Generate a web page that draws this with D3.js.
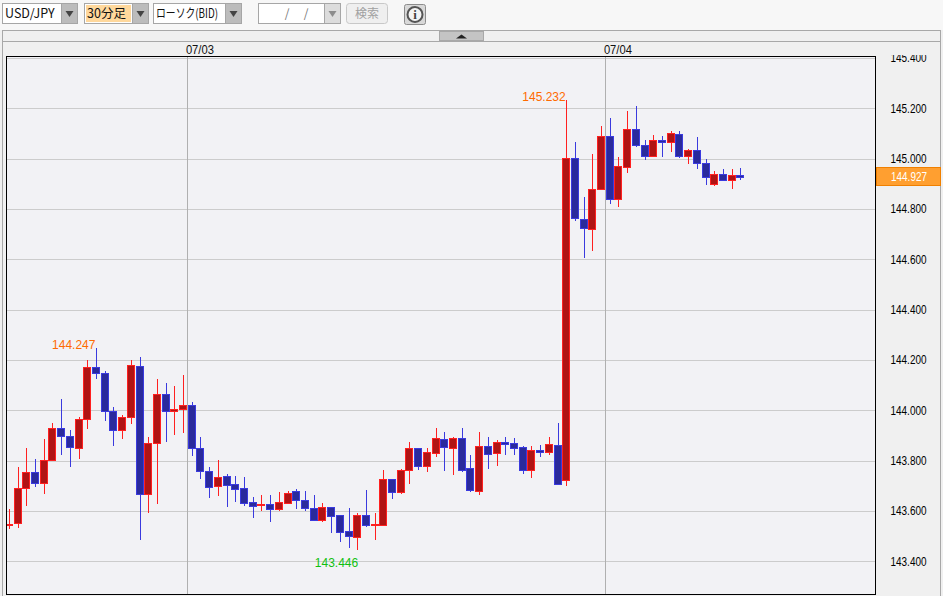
<!DOCTYPE html>
<html lang="ja">
<head>
  <meta charset="UTF-8">
  <title>USD/JPY 30分足</title>
  <style>
    * { padding: 0; margin: 0; }
    body { background: #f0f0f0; overflow: hidden; }
    svg { display: block; }
    text { font-family: "Liberation Sans", sans-serif; }
    .jp { font-family: "Noto Sans CJK JP", sans-serif; }
  </style>
</head>
<body>
  <script src="https://d3js.org/d3.v7.min.js"></script>
  <script>
    const opens = [143.550,143.551,143.690,143.754,143.710,143.802,143.929,143.897,143.849,143.965,144.171,144.148,143.996,143.921,143.973,144.175,143.666,143.869,144.064,143.996,144.004,144.020,143.849,143.758,143.701,143.738,143.706,143.690,143.635,143.623,143.627,143.609,143.633,143.678,143.642,143.611,143.566,143.615,143.583,143.519,143.498,143.583,143.543,143.546,143.726,143.677,143.761,143.849,143.780,143.832,143.885,143.852,143.889,143.770,143.681,143.857,143.832,143.873,143.869,143.853,143.761,143.841,143.833,143.861,143.722,145.003,144.760,144.721,144.880,145.091,144.840,144.967,145.118,145.055,145.011,145.074,145.067,145.099,145.011,145.035,144.983,144.899,144.939,144.915,144.935];
    const highs = [143.608,143.775,143.851,143.807,143.886,143.950,144.046,143.922,143.974,144.201,144.247,144.156,144.014,143.982,144.201,144.213,143.894,144.124,144.109,144.097,144.141,144.034,143.894,143.775,143.803,143.747,143.739,143.735,143.656,143.664,143.664,143.676,143.680,143.688,143.680,143.664,143.632,143.615,143.583,143.612,143.592,143.683,143.592,143.763,143.726,143.767,143.875,143.849,143.851,143.930,143.914,143.894,143.930,143.823,143.914,143.894,143.883,143.894,143.890,143.857,143.857,143.862,143.894,143.950,145.232,145.068,144.849,145.020,145.132,145.163,145.008,145.191,145.211,145.076,145.096,145.092,145.112,145.112,145.040,145.088,145.000,144.953,144.960,144.960,144.964];
    const lows = [143.528,143.532,143.620,143.695,143.668,143.802,143.823,143.775,143.807,143.926,144.125,143.958,143.859,143.886,143.946,143.485,143.592,143.628,143.874,143.902,143.910,143.819,143.727,143.652,143.660,143.616,143.636,143.620,143.572,143.600,143.556,143.600,143.633,143.608,143.600,143.560,143.556,143.512,143.477,143.453,143.446,143.537,143.485,143.540,143.648,143.668,143.707,143.763,143.755,143.815,143.759,143.743,143.755,143.676,143.664,143.767,143.779,143.823,143.823,143.747,143.731,143.815,143.823,143.708,143.699,144.754,144.606,144.634,144.880,144.821,144.809,144.945,145.048,144.996,145.011,145.008,145.028,145.004,144.980,144.960,144.897,144.893,144.915,144.881,144.917];
    const closes = [143.550,143.690,143.754,143.710,143.802,143.929,143.897,143.853,143.965,144.171,144.148,143.996,143.921,143.973,144.179,143.666,143.869,144.064,143.996,144.004,144.020,143.849,143.758,143.697,143.734,143.705,143.689,143.633,143.621,143.627,143.609,143.635,143.670,143.645,143.613,143.566,143.615,143.581,143.518,143.502,143.583,143.546,143.547,143.726,143.677,143.762,143.849,143.780,143.833,143.889,143.856,143.889,143.764,143.685,143.857,143.828,143.873,143.868,143.852,143.761,143.841,143.833,143.865,143.708,145.003,144.763,144.723,144.880,145.091,144.840,144.971,145.118,145.055,145.011,145.074,145.067,145.103,145.010,145.035,144.983,144.927,144.939,144.915,144.935,144.927];

    const priceTicks = [143.4,143.6,143.8,144.0,144.2,144.4,144.6,144.8,145.0,145.2,145.4];
    const dateLabels = ['07/03','07/04'];
    const dateSlots = [20.44,68.44];
    const lastPrice = 144.927;
    const highMarks = [[10,144.247],[64,145.232]];
    const lowMarks = [[40,143.446]];

    const width = 943, height = 596;
    const plot = { left: 6.5, right: 875.5, top: 56.5, bottom: 594.5 };
    const upFill = '#b01414', upLine = '#ff2020';
    const downFill = '#2a2a9c', downLine = '#3a3ade';

    const svg = d3.select('body').append('svg')
      .attr('width', width)
      .attr('height', height);

    const x = d3.scaleLinear().domain([0, 84]).range([9.4, 740.9]);
    const y = d3.scaleLinear().domain([143.4, 145.2]).range([561.3, 108.42]);
    const px = v => Math.floor(v) + 0.5;
    const ypx = v => Math.round(y(v)) + 0.5;

    // page and toolbar
    svg.append('rect').attr('width', width).attr('height', 30).attr('fill', '#f7f7f7');
    svg.append('rect').attr('x', 2.5).attr('y', 30.5).attr('width', 938).attr('height', 570)
      .attr('fill', '#f0f0f0').attr('stroke', '#a8a8a8');
    svg.append('line').attr('x1', 2).attr('x2', 941).attr('y1', 41.5).attr('y2', 41.5).attr('stroke', '#a8a8a8');

    const combo = (x0, x1, label, opts = {}) => {
      const btn = opts.btn || 16;
      svg.append('rect').attr('x', x0 + 0.5).attr('y', 3.5).attr('width', x1 - x0).attr('height', 20)
        .attr('fill', '#fff').attr('stroke', '#a6a6a6');
      if (opts.hilite) {
        svg.append('rect').attr('x', x0 + 2).attr('y', 5).attr('width', x1 - x0 - btn - 3).attr('height', 17)
          .attr('fill', opts.hilite);
      }
      svg.append('rect').attr('x', x1 - btn + 0.5).attr('y', 3.5).attr('width', btn).attr('height', 20)
        .attr('fill', opts.dim ? '#dcdcdc' : '#bcbcbc').attr('stroke', '#a6a6a6');
      const c = x1 - btn / 2 + 0.5;
      svg.append('path').attr('d', `M${c - 4},11 h8 l-4,6 z`).attr('fill', opts.dim ? '#8c8c8c' : '#444');
      const t = svg.append('text').attr('class', 'jp').attr('x', x0 + 3).attr('y', 18)
        .attr('font-size', 12.5).attr('fill', '#111').text(label);
      if (opts.fit) t.attr('textLength', opts.fit).attr('lengthAdjust', 'spacingAndGlyphs');
    };
    combo(2, 77, 'USD/JPY');
    combo(84, 148, '30分足', { hilite: '#ffd89c' });
    combo(153, 241, 'ローソク(BID)', { fit: 62 });
    combo(258, 340, '', { dim: true });
    svg.selectAll('.slash').data([287, 306]).join('text')
      .attr('class', 'slash jp').attr('x', d => d).attr('y', 18).attr('text-anchor', 'middle')
      .attr('font-size', 12).attr('fill', '#777').text('/');

    svg.append('rect').attr('x', 346.5).attr('y', 3.5).attr('width', 41).attr('height', 20).attr('rx', 3)
      .attr('fill', '#efefef').attr('stroke', '#c8c8c8');
    svg.append('text').attr('class', 'jp').attr('x', 367).attr('y', 18).attr('text-anchor', 'middle')
      .attr('font-size', 12).attr('fill', '#a0a0a0').text('検索');

    svg.append('rect').attr('x', 404.5).attr('y', 4.5).attr('width', 21).attr('height', 20).attr('rx', 2)
      .attr('fill', '#d8d8d8').attr('stroke', '#8c8c8c');
    svg.append('circle').attr('cx', 415).attr('cy', 14.5).attr('r', 7.5).attr('fill', '#f4f4f4')
      .attr('stroke', '#555').attr('stroke-width', 2);
    svg.append('text').attr('x', 415).attr('y', 19).attr('text-anchor', 'middle')
      .attr('font-size', 13).attr('font-weight', 'bold').attr('fill', '#444')
      .style('font-family', '"Liberation Serif", serif').text('i');

    // collapse tab
    svg.append('rect').attr('x', 439.5).attr('y', 31.5).attr('width', 44).attr('height', 9)
      .attr('fill', '#c4c4c4').attr('stroke', '#a8a8a8');
    svg.append('path').attr('d', 'M456,38.5 l5.5,-4 l5.5,4 z').attr('fill', '#222');

    // plot
    svg.append('rect')
      .attr('x', plot.left).attr('y', plot.top)
      .attr('width', plot.right - plot.left).attr('height', plot.bottom - plot.top)
      .attr('fill', '#f2f2f5');

    svg.append('defs').append('clipPath').attr('id', 'plot-clip').append('rect')
      .attr('x', plot.left).attr('y', plot.top)
      .attr('width', plot.right - plot.left).attr('height', plot.bottom - plot.top);
    svg.select('defs').append('clipPath').attr('id', 'axis-clip').append('rect')
      .attr('x', plot.right).attr('y', 55).attr('width', 70).attr('height', 545);

    const inner = svg.append('g').attr('clip-path', 'url(#plot-clip)');

    inner.selectAll('.grid').data(priceTicks).join('line')
      .attr('class', 'grid')
      .attr('x1', plot.left).attr('x2', plot.right)
      .attr('y1', d => ypx(d)).attr('y2', d => ypx(d))
      .attr('stroke', '#cccccc');

    inner.selectAll('.day').data(dateSlots).join('line')
      .attr('class', 'day')
      .attr('x1', d => px(x(d))).attr('x2', d => px(x(d)))
      .attr('y1', plot.top).attr('y2', plot.bottom)
      .attr('stroke', '#b0b0b0');

    svg.selectAll('.date').data(dateSlots).join('text')
      .attr('class', 'date')
      .attr('x', d => x(d) - 1.5)
      .attr('y', 54)
      .attr('font-size', 12)
      .attr('textLength', 28)
      .attr('lengthAdjust', 'spacingAndGlyphs')
      .attr('fill', '#111')
      .text((d, i) => dateLabels[i]);

    const candles = d3.range(opens.length);
    const isUp = i => closes[i] >= opens[i];

    inner.selectAll('.wick').data(candles).join('line')
      .attr('class', 'wick')
      .attr('x1', i => px(x(i))).attr('x2', i => px(x(i)))
      .attr('y1', i => Math.round(y(highs[i]))).attr('y2', i => Math.round(y(lows[i])))
      .attr('stroke', i => isUp(i) ? upLine : downLine);

    inner.selectAll('.body').data(candles).join('rect')
      .attr('class', 'body')
      .attr('x', i => Math.floor(x(i)) - 3.5)
      .attr('width', 7)
      .attr('y', i => ypx(Math.max(opens[i], closes[i])))
      .attr('height', i => Math.max(1, ypx(Math.min(opens[i], closes[i])) - ypx(Math.max(opens[i], closes[i]))))
      .attr('fill', i => isUp(i) ? upFill : downFill)
      .attr('stroke', i => isUp(i) ? upLine : downLine);

    svg.append('rect')
      .attr('x', plot.left).attr('y', plot.top)
      .attr('width', plot.right - plot.left).attr('height', plot.bottom - plot.top)
      .attr('fill', 'none').attr('stroke', '#000');

    // price axis
    const axis = d3.axisRight(y).tickValues(priceTicks).tickFormat(d3.format('.3f')).tickSize(0).tickPadding(15);
    const axisG = svg.append('g')
      .attr('clip-path', 'url(#axis-clip)')
      .append('g')
      .attr('transform', `translate(${plot.right},0)`)
      .call(axis);
    axisG.select('.domain').remove();
    axisG.selectAll('text').attr('font-size', 12).attr('fill', '#000')
      .attr('textLength', 36).attr('lengthAdjust', 'spacingAndGlyphs')
      .style('font-family', '"Liberation Sans", sans-serif');

    // high / low marks
    svg.selectAll('.hi').data(highMarks).join('text')
      .attr('class', 'hi')
      .attr('x', d => x(d[0]) - 1).attr('y', d => y(d[1]) + 1)
      .attr('text-anchor', 'end')
      .attr('font-size', 12)
      .attr('fill', '#ff6a00')
      .text(d => d[1].toFixed(3));

    svg.selectAll('.lo').data(lowMarks).join('text')
      .attr('class', 'lo')
      .attr('x', d => x(d[0]) + 0.5).attr('y', d => y(d[1]) + 17)
      .attr('text-anchor', 'end')
      .attr('font-size', 12)
      .attr('fill', '#10c010')
      .text(d => d[1].toFixed(3));

    // current price tag
    svg.append('rect')
      .attr('x', plot.right + 1).attr('y', Math.round(y(lastPrice)) - 9.5)
      .attr('width', 64).attr('height', 18)
      .attr('fill', '#ff9f30').attr('stroke', '#f08000');
    svg.append('text')
      .attr('x', plot.right + 15.5).attr('y', y(lastPrice) + 4)
      .attr('font-size', 12).attr('fill', '#fff')
      .attr('textLength', 36).attr('lengthAdjust', 'spacingAndGlyphs')
      .text(lastPrice.toFixed(3));
  </script>
</body>
</html>
